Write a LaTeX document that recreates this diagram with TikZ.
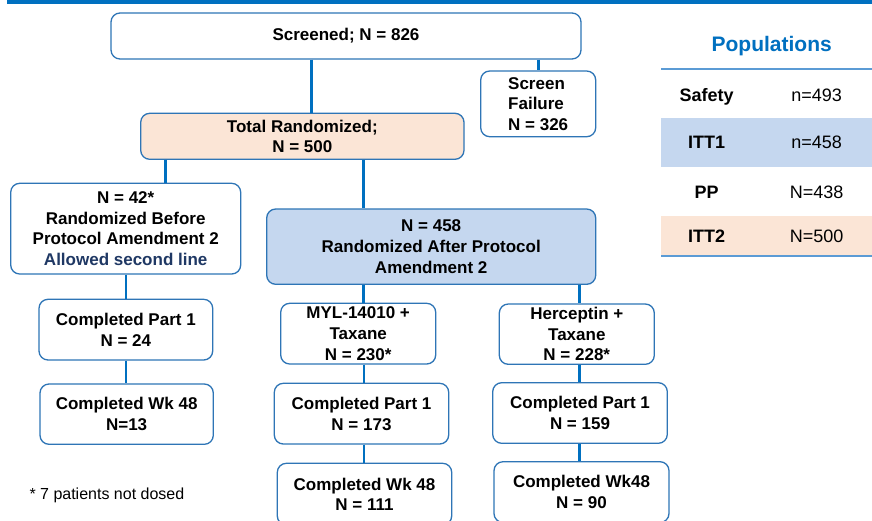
\documentclass[tikz,border=0pt]{standalone}
\usepackage{fontspec}
\setmainfont{Liberation Sans}
\definecolor{barblue}{HTML}{0070C0}
\definecolor{edgeblue}{HTML}{2E75B6}
\definecolor{peach}{HTML}{FBE5D6}
\definecolor{lightblue}{HTML}{C5D7EF}
\definecolor{navy}{HTML}{1F3864}
\definecolor{tableline}{HTML}{5B9BD5}
\begin{document}
\begin{tikzpicture}[x=1pt,y=-1pt,
  flowbox/.style={draw=edgeblue, line width=1.3pt, rounded corners=9pt, fill=white,
    align=center, inner sep=0pt, font=\fontsize{17}{20.6}\selectfont\bfseries},
  conn/.style={draw=barblue, line width=2.8pt},
  tablab/.style={inner sep=0pt, text height=12.9pt, text depth=0pt, font=\fontsize{18}{21}\selectfont\bfseries},
  tabval/.style={inner sep=0pt, text height=12.9pt, text depth=0pt, font=\fontsize{18}{21}\selectfont},
]
\clip (0,0) rectangle (872,520);
\fill[white] (0,0) rectangle (872,520);
% top bar
\fill[barblue] (7,0) rectangle (872,4.3);

% boxes
\node[flowbox, minimum width=470pt, minimum height=46pt] (screened) at (346,36) {Screened; N = 826};
\node[flowbox, align=left, minimum width=115pt, minimum height=65.7pt] (fail) at (538.2,103.85) {Screen\\Failure\\N = 326};
\node[flowbox, fill=peach, minimum width=323.3pt, minimum height=46pt] (totrand) at (302.35,136.3) {Total Randomized;\\N = 500};
\node[flowbox, minimum width=230pt, minimum height=90.7pt] (before) at (125.7,228.65) {N = 42*\\Randomized Before\\Protocol Amendment 2\\{\color{navy}Allowed second line}};
\node[flowbox, minimum width=173.7pt, minimum height=60.7pt] (partL) at (125.85,329.65) {Completed Part 1\\N = 24};
\node[flowbox, minimum width=173.3pt, minimum height=60.3pt] (wkL) at (126.65,414.15) {Completed Wk 48\\N=13};
\node[flowbox, fill=lightblue, minimum width=329pt, minimum height=75.3pt] (after) at (431.2,246.65) {N = 458\\Randomized After Protocol\\Amendment 2};
\node[flowbox, minimum width=155pt, minimum height=60.7pt] (myl) at (358.2,333.65) {MYL-14010 +\\Taxane\\N = 230*};
\node[flowbox, minimum width=155pt, minimum height=60.3pt] (herc) at (576.8,334.15) {Herceptin +\\Taxane\\N = 228*};
\node[flowbox, minimum width=174.4pt, minimum height=60.7pt] (partM) at (361.5,413.65) {Completed Part 1\\N = 173};
\node[flowbox, minimum width=174.6pt, minimum height=60.6pt] (partR) at (580,413) {Completed Part 1\\N = 159};
\node[flowbox, minimum width=174.4pt, minimum height=61.7pt] (wkM) at (364.5,494.15) {Completed Wk 48\\N = 111};
\node[flowbox, minimum width=175pt, minimum height=60.8pt] (wkR) at (581.5,492.1) {Completed Wk48\\N = 90};

% connectors
\draw[conn] (screened.south -| 311.7,0) -- (totrand.north -| 311.7,0);
\draw[conn] (screened.south -| 538.3,0) -- (fail.north -| 538.3,0);
\draw[conn] (totrand.south -| 165.5,0) -- (before.north -| 165.5,0);
\draw[conn] (totrand.south -| 363.3,0) -- (after.north -| 363.3,0);
\draw[conn] (before.south -| 126,0) -- (partL.north -| 126,0);
\draw[conn] (partL.south -| 126,0) -- (wkL.north -| 126,0);
\draw[conn] (after.south -| 363.3,0) -- (myl.north -| 363.3,0);
\draw[conn] (after.south -| 579.3,0) -- (herc.north -| 579.3,0);
\draw[conn] (myl.south -| 364,0) -- (partM.north -| 364,0);
\draw[conn] (herc.south -| 579.3,0) -- (partR.north -| 579.3,0);
\draw[conn] (partM.south -| 364,0) -- (wkM.north -| 364,0);
\draw[conn] (partR.south -| 579.3,0) -- (wkR.north -| 579.3,0);

% footnote
\node[anchor=west, inner sep=0pt, font=\fontsize{16}{19}\selectfont] (foot) at (29.3,495) {* 7 patients not dosed};

% populations table
\node[inner sep=0pt, text=barblue, font=\fontsize{21}{25}\selectfont\bfseries] (poptitle) at (771.7,45.7) {Populations};
\fill[lightblue] (661,117.7) rectangle (872,166.7);
\fill[peach] (661,216) rectangle (872,255);
\draw[tableline, line width=1.2pt] (661,69) -- (872,69);
\draw[tableline, line width=2pt] (661,256) -- (872,256);
\node[tablab] (safety) at (706.7,95) {Safety};
\node[tabval] (safetyv) at (816.7,95) {n=493};
\node[tablab] (itta) at (706.7,142.5) {ITT1};
\node[tabval] (ittav) at (816.7,142.5) {n=458};
\node[tablab] (pp) at (706.7,191.7) {PP};
\node[tabval] (ppv) at (816.7,191.7) {N=438};
\node[tablab] (ittb) at (706.7,236) {ITT2};
\node[tabval] (ittbv) at (816.7,236) {N=500};
\end{tikzpicture}
\end{document}
